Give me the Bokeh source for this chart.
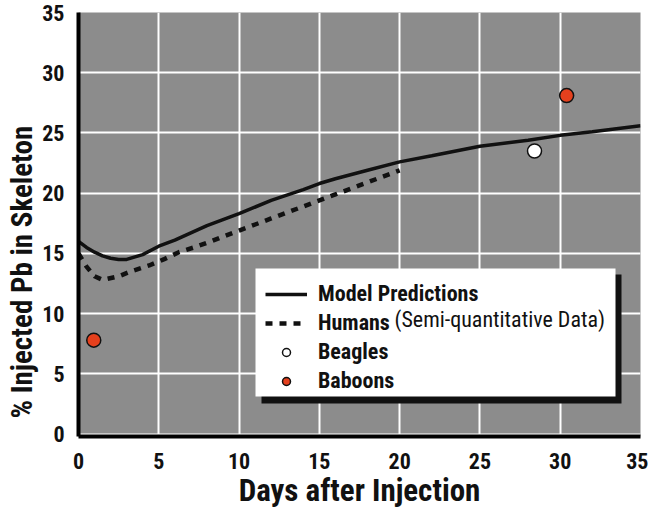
from bokeh.plotting import figure
from bokeh.models import Range1d, Label, BoxAnnotation, Legend, LegendItem, Title
from bokeh.embed import file_html
from bokeh.resources import INLINE

# ---- data ----
model_days = [0, 0.5, 1, 1.5, 2, 2.5, 3, 4, 5, 6, 7, 8, 9, 10, 12, 14, 15, 16, 18, 20, 22, 25, 28, 30, 32, 35]
model_pct = [16.0, 15.5, 15.1, 14.8, 14.6, 14.5, 14.5, 14.9, 15.6, 16.1, 16.7, 17.3, 17.8, 18.3, 19.4, 20.3, 20.8, 21.2, 21.9, 22.6, 23.1, 23.9, 24.4, 24.8, 25.1, 25.6]

human_days = [0, 0.5, 1, 1.5, 2.5, 3.25, 4.4, 5.3, 6.25, 7.2, 8.25, 9, 10, 11, 12, 13, 14, 15, 16, 17, 18, 19, 20]
human_pct = [15.0, 13.9, 13.1, 12.8, 13.1, 13.5, 14.0, 14.5, 15.1, 15.5, 16.0, 16.4, 16.9, 17.4, 17.9, 18.4, 18.9, 19.4, 19.9, 20.4, 20.9, 21.4, 21.9]

beagle_days = [28.4]
beagle_pct = [23.5]

baboon_days = [0.95, 30.4]
baboon_pct = [7.8, 28.1]

x_ticks = [0, 5, 10, 15, 20, 25, 30, 35]
y_ticks = [0, 5, 10, 15, 20, 25, 30, 35]

x_label = "Days after Injection"
y_label = "% Injected Pb in Skeleton"
legend_labels = ["Model Predictions", "Humans", "Beagles", "Baboons"]
humans_note = "(Semi-quantitative Data)"

FONT = "Roboto Condensed"
INK = "#111111"

p = figure(width=648, height=511,
           x_range=Range1d(0, 35), y_range=Range1d(-0.2, 35),
           output_backend="svg", toolbar_location=None,
           min_border_left=78, min_border_right=8, min_border_top=12, min_border_bottom=73,
           background_fill_color="#8c8c8c", border_fill_color="white",
           outline_line_color=None)

for ax, ticks in ((p.xaxis, x_ticks), (p.yaxis, y_ticks)):
    ax.ticker = ticks
    ax.major_tick_line_color = None
    ax.minor_tick_line_color = None
    ax.axis_line_color = "black"
    ax.axis_line_width = 4
    ax.major_label_text_font = FONT
    ax.major_label_text_font_style = "bold"
    ax.major_label_text_font_size = "22px"
    ax.major_label_text_color = INK

p.xaxis.major_label_standoff = 10
p.yaxis.major_label_standoff = 8
p.xaxis.axis_label = x_label
p.xaxis.axis_label_text_font = FONT
p.xaxis.axis_label_text_font_style = "bold"
p.xaxis.axis_label_text_font_size = "31px"
p.xaxis.axis_label_text_color = INK
p.xaxis.axis_label_standoff = 0

# y-axis title in the left panel, placed like the reference's
p.add_layout(Title(text=y_label, align="left", offset=18, standoff=2,
                   text_font=FONT, text_font_style="bold", text_font_size="29px",
                   text_color=INK), "left")

p.xgrid.ticker = x_ticks
p.ygrid.ticker = y_ticks
p.grid.grid_line_color = "white"
p.grid.grid_line_width = 2

r_model = p.line(model_days, model_pct, line_width=3.5, line_color=INK)
r_human = p.line(human_days, human_pct, line_width=4.5, line_color=INK, line_dash="7 7")
r_beagle = p.scatter(beagle_days, beagle_pct, size=14, fill_color="white",
                     line_color=INK, line_width=1.5)
r_baboon = p.scatter(baboon_days, baboon_pct, size=14, fill_color="#e5401d",
                     line_color=INK, line_width=1.5)

# legend box with shadow
p.add_layout(BoxAnnotation(left=183, right=543, top=162, bottom=33,
                           left_units="screen", right_units="screen",
                           top_units="screen", bottom_units="screen",
                           fill_color=INK, fill_alpha=1, line_color=None))
p.add_layout(BoxAnnotation(left=177, right=537, top=168, bottom=40,
                           left_units="screen", right_units="screen",
                           top_units="screen", bottom_units="screen",
                           fill_color="white", fill_alpha=1, line_color=None))

legend = Legend(items=[LegendItem(label=legend_labels[0], renderers=[r_model]),
                       LegendItem(label=legend_labels[1], renderers=[r_human]),
                       LegendItem(label=legend_labels[2], renderers=[r_beagle]),
                       LegendItem(label=legend_labels[3], renderers=[r_baboon])],
                location=(182, 38), background_fill_alpha=0, border_line_alpha=0,
                label_text_font=FONT, label_text_font_style="bold",
                label_text_font_size="22px", label_text_color=INK,
                glyph_width=42, glyph_height=20, label_height=20,
                spacing=4, padding=5, label_standoff=11, margin=0)
p.add_layout(legend)

p.add_layout(Label(x=316, y=117, x_units="screen", y_units="screen", text=humans_note,
                   text_font=FONT, text_font_style="normal", text_font_size="22px",
                   text_baseline="middle", text_color=INK))

open("out.html", "w").write(file_html(p, INLINE))
